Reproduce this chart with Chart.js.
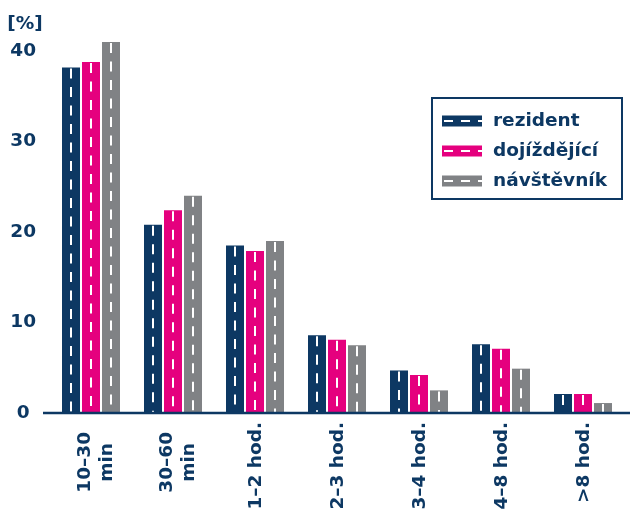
<!DOCTYPE html>
<html><head><meta charset="utf-8">
<script src="https://cdn.jsdelivr.net/npm/chart.js@4"></script>
<style>html,body{margin:0;padding:0;background:#fff}#wrap{width:633px;height:527px}</style>
</head><body><div id="wrap"><canvas id="c" width="633" height="527"></canvas></div>
<script>
const categories = [['10–30','min'],['30–60','min'],'1–2 hod.','2–3 hod.','3–4 hod.','4–8 hod.','>8 hod.'];
const seriesNames = ['rezident','dojíždějící','návštěvník'];
const rezident = [38.2, 20.8, 18.5, 8.6, 4.7, 7.6, 2.1];
const dojizdejici = [38.8, 22.4, 17.9, 8.1, 4.2, 7.1, 2.1];
const navstevnik = [41.0, 24.0, 19.0, 7.5, 2.5, 4.9, 1.1];
const yTicks = [0, 10, 20, 30, 40];
const unitLabel = '[%]';

const NAVY = '#0d3863', PINK = '#e5007e', GRAY = '#808285';
const FONT = "'DejaVu Sans', sans-serif";
const FS = 18.5;

const roadDashes = {
  id: 'roadDashes',
  afterDatasetsDraw(chart) {
    const ctx = chart.ctx;
    ctx.save();
    ctx.strokeStyle = '#ffffff';
    ctx.lineWidth = 2;
    ctx.setLineDash([10, 8.5]);
    chart.data.datasets.forEach((ds, i) => {
      const meta = chart.getDatasetMeta(i);
      meta.data.forEach(el => {
        const p = el.getProps(['x', 'y', 'base'], true);
        ctx.beginPath();
        ctx.moveTo(p.x, p.y + 1);
        ctx.lineTo(p.x, p.base);
        ctx.stroke();
      });
    });
    ctx.restore();
    const y0 = chart.scales.y.getPixelForValue(0);
    ctx.save();
    ctx.strokeStyle = NAVY;
    ctx.lineWidth = 2.5;
    ctx.beginPath();
    ctx.moveTo(43, y0);
    ctx.lineTo(630, y0);
    ctx.stroke();
    ctx.restore();
  },
  afterDraw(chart) {
    const ctx = chart.ctx;
    ctx.save();
    ctx.fillStyle = NAVY;
    ctx.font = "bold " + FS + "px " + FONT;
    ctx.textAlign = 'center';
    ctx.textBaseline = 'middle';
    ctx.fillText(unitLabel, 25, 24);

    // x category labels, rotated, positioned from the x scale
    const xs = chart.scales.x;
    const top = xs.top + 9;
    chart.data.labels.forEach((lab, i) => {
      const lines = Array.isArray(lab) ? lab : [lab];
      const x = xs.getPixelForTick(i);
      ctx.save();
      ctx.translate(x, top);
      ctx.rotate(-Math.PI / 2);
      ctx.fillStyle = NAVY;
      ctx.textBaseline = 'middle';
      if (lines.length === 1) {
        ctx.textAlign = 'right';
        ctx.fillText(lines[0], 0, 1);
      } else {
        const widths = lines.map(l => ctx.measureText(l).width);
        const w = Math.max(...widths);
        ctx.textAlign = 'center';
        lines.forEach((l, k) => {
          ctx.fillText(l, -10 - w / 2, (k - (lines.length - 1) / 2) * 22 + 5);
        });
      }
      ctx.restore();
    });

    // legend
    ctx.strokeStyle = NAVY;
    ctx.lineWidth = 2;
    ctx.strokeRect(432, 98, 190, 101);
    chart.data.datasets.forEach((ds, i) => {
      const cy = 121 + i * 30;
      ctx.fillStyle = ds.backgroundColor;
      ctx.fillRect(442, cy - 5.5, 40, 11);
      ctx.save();
      ctx.strokeStyle = '#fff';
      ctx.lineWidth = 2;
      ctx.setLineDash([9, 8]);
      ctx.beginPath();
      ctx.moveTo(444, cy);
      ctx.lineTo(482, cy);
      ctx.stroke();
      ctx.restore();
      ctx.fillStyle = NAVY;
      ctx.textAlign = 'left';
      ctx.textBaseline = 'middle';
      ctx.font = "bold " + FS + "px " + FONT;
      ctx.fillText(ds.label, 493, cy);
    });
    ctx.restore();
  }
};

const mk = (label, data, color) => ({
  label, data, backgroundColor: color, borderWidth: 0,
  barPercentage: 0.9, categoryPercentage: 60 / 82
});

new Chart(document.getElementById('c'), {
  type: 'bar',
  data: {
    labels: categories,
    datasets: [
      mk(seriesNames[0], rezident, NAVY),
      mk(seriesNames[1], dojizdejici, PINK),
      mk(seriesNames[2], navstevnik, GRAY)
    ]
  },
  options: {
    responsive: false,
    animation: false,
    devicePixelRatio: 1,
    font: { family: FONT, weight: 'bold', size: FS },
    layout: { padding: { top: 33, right: 9, left: 0, bottom: 0 } },
    plugins: { legend: { display: false }, tooltip: { enabled: false } },
    scales: {
      x: {
        grid: { display: false, drawTicks: false },
        border: { display: false },
        ticks: { display: false },
        afterFit(s) { s.height = 114; }
      },
      y: {
        min: 0, max: 42,
        grid: { display: false, drawTicks: false },
        border: { display: false },
        afterBuildTicks(s) { s.ticks = yTicks.map(v => ({ value: v })); },
        ticks: {
          color: NAVY, font: { family: FONT, weight: 'bold', size: FS },
          crossAlign: 'center', padding: 14
        },
        afterFit(s) { s.width = 50; }
      }
    }
  },
  plugins: [roadDashes]
});
</script>
</body></html>
